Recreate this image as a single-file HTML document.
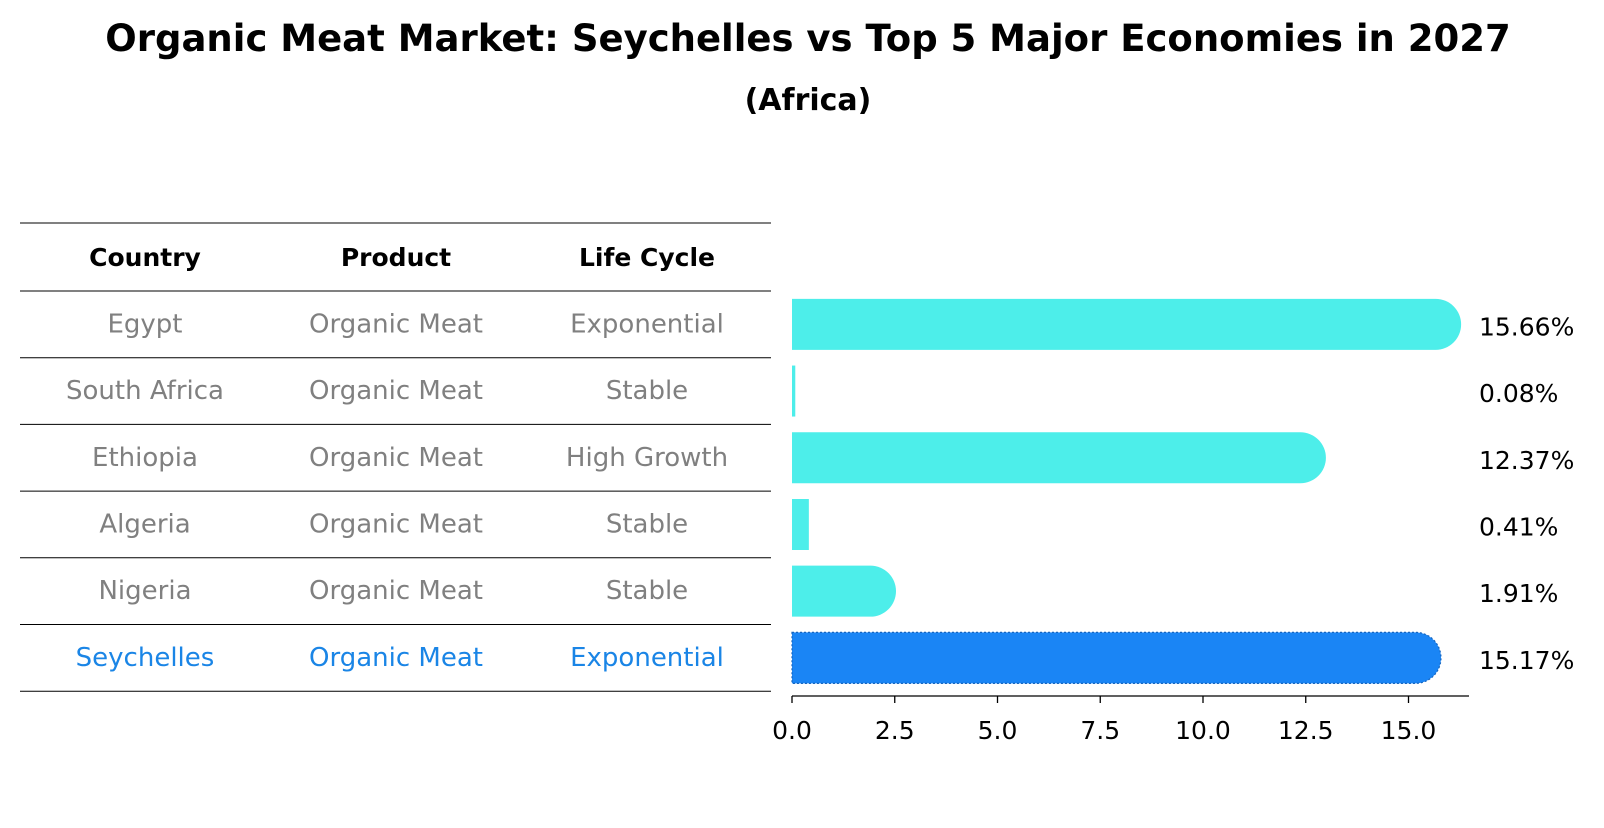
<!DOCTYPE html>
<html><head><meta charset="utf-8">
<style>
body{margin:0;background:#fff;font-family:"Liberation Sans","DejaVu Sans",sans-serif;}
svg text{font-family:"DejaVu Sans","Liberation Sans",sans-serif;}
</style></head>
<body>
<svg id="chart" width="1604" height="823" viewBox="0 0 1604 823" xmlns="http://www.w3.org/2000/svg">
<text x="808" y="51" text-anchor="middle" font-size="37" font-weight="bold">Organic Meat Market: Seychelles vs Top 5 Major Economies in 2027</text>
<text x="808" y="110" text-anchor="middle" font-size="30" font-weight="bold">(Africa)</text>
<g id="table"></g>
<g id="bars"></g>
</svg>
<script>
const countries=["Egypt","South Africa","Ethiopia","Algeria","Nigeria","Seychelles"];
const products=["Organic Meat","Organic Meat","Organic Meat","Organic Meat","Organic Meat","Organic Meat"];
const lifeCycles=["Exponential","Stable","High Growth","Stable","Stable","Exponential"];
const values=[15.66,0.08,12.37,0.41,1.91,15.17];
const ticks=[0,2.5,5,7.5,10,12.5,15];
const tickLabels=["0.0","2.5","5.0","7.5","10.0","12.5","15.0"];
const NS="http://www.w3.org/2000/svg";
const tbl=document.getElementById('table'), bars=document.getElementById('bars');
function mk(tag,attrs,parent,txt){const e=document.createElementNS(NS,tag);for(const k in attrs)e.setAttribute(k,attrs[k]);if(txt!==undefined)e.textContent=txt;parent.appendChild(e);return e;}
const x0=792, pxPer=41.1, rowTop=291, rowH=66.7, headTop=223, barH=51;
const X=v=>x0+v*pxPer;
const rowC=i=>rowTop+rowH*(i+0.5);
const colX=[145,396,647];
let l=mk('line',{x1:20,x2:771,y1:headTop,y2:headTop,stroke:'#000','stroke-width':1},tbl);


["Country","Product","Life Cycle"].forEach((h,j)=>{
  const t=mk('text',{x:colX[j],y:(headTop+rowTop)/2+9,'text-anchor':'middle','font-size':25,'font-weight':'bold'},tbl,h);
  
  
});
countries.forEach((c,i)=>{
  const y=rowTop+rowH*i;
  const ln=mk('line',{x1:20,x2:771,y1:y,y2:y,stroke:'#000','stroke-width':1},tbl);
  
  
  const col=c==="Seychelles"?'#1a85e6':'#808080';
  [c,products[i],lifeCycles[i]].forEach((s,j)=>{
    const t=mk('text',{x:colX[j],y:rowC(i)+8,'text-anchor':'middle','font-size':26,fill:col},tbl,s);
    
    
  });
});
const lb=mk('line',{x1:20,x2:771,y1:rowTop+rowH*6,y2:rowTop+rowH*6,stroke:'#000','stroke-width':1},tbl);


values.forEach((v,i)=>{
  const sey=countries[i]==="Seychelles";
  const fill=sey?'#1a85f5':'#4deeea';
  const y=rowC(i)-barH/2, r=barH/2, xe=X(v);
  let d;
  if(v>1){d=`M${x0},${y}H${xe}A${r},${r} 0 0 1 ${xe},${y+barH}H${x0}Z`;}
  else{d=`M${x0},${y}H${Math.max(xe,x0+3)}V${y+barH}H${x0}Z`;}
  const p=mk('path',{d:d,fill:fill},bars);
  if(sey){p.setAttribute('stroke','#1565c0');p.setAttribute('stroke-dasharray','2,2');p.setAttribute('stroke-width','1.2');}
  
  
  const t=mk('text',{x:1479,y:rowC(i)+11,'font-size':25},bars,v.toFixed(2)+'%');
  
  
});
const ax=mk('line',{x1:x0,x2:1469,y1:696,y2:696,stroke:'#000','stroke-width':1.3},bars);


ticks.forEach((tv,k)=>{
  const tk=mk('line',{x1:X(tv),x2:X(tv),y1:696,y2:703,stroke:'#000','stroke-width':1.3},bars);
  
  
  const t=mk('text',{x:X(tv),y:739,'text-anchor':'middle','font-size':25},bars,tickLabels[k]);
  
  
});
</script>
</body></html>
